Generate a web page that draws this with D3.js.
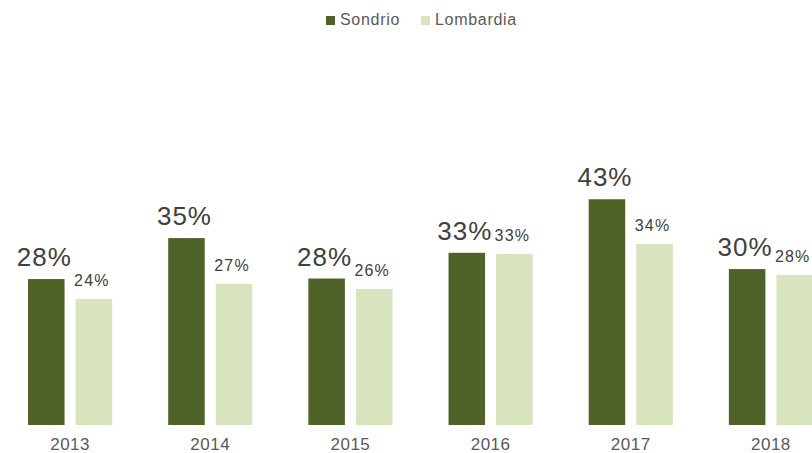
<!DOCTYPE html>
<html lang="it">
<head>
	<meta charset="UTF-8">
	<title>Sondrio vs Lombardia</title>
	<script src="https://cdnjs.cloudflare.com/ajax/libs/d3/7.8.5/d3.min.js"></script>
	<style>
		body { margin: 0; background: #fff; }
		text { font-family: "Liberation Sans", Arial, sans-serif; }
	</style>
</head>
<body>
<script>
	// values (share, 0-1)
	var years = ['2013', '2014', '2015', '2016', '2017', '2018'];
	var seriesNames = ['Sondrio', 'Lombardia'];
	var sondrio = [0.278, 0.356, 0.279, 0.328, 0.430, 0.297];
	var lombardia = [0.240, 0.269, 0.259, 0.326, 0.345, 0.286];
	var labelsSondrio = ['28%', '35%', '28%', '33%', '43%', '30%'];
	var labelsLombardia = ['24%', '27%', '26%', '33%', '34%', '28%'];

	var colors = {Sondrio: '#4f6228', Lombardia: '#d7e4bd'};

	var width = 812, height = 453;
	var baseline = 425;

	var svg = d3.select('body').append('svg')
		.attr('width', width)
		.attr('height', height);

	var rows = years.map(function (y, i) {
		return {
			year: y,
			values: [
				{key: 'Sondrio', value: sondrio[i], label: labelsSondrio[i]},
				{key: 'Lombardia', value: lombardia[i], label: labelsLombardia[i]}
			]
		};
	});

	// plot runs past the right edge, last bar is cut like in the original
	var x0 = d3.scaleBand()
		.domain(years)
		.range([0, 841])
		.paddingInner(0.4)
		.paddingOuter(0.2);

	var x1 = d3.scaleBand()
		.domain(seriesNames)
		.range([0, x0.bandwidth()])
		.paddingInner(0.232);

	var y = d3.scaleLinear()
		.domain([0, 0.5])
		.range([baseline, baseline - 262.5]);

	var groups = svg.selectAll('.group')
		.data(rows)
		.enter().append('g')
		.attr('class', 'group')
		.attr('transform', function (d) { return 'translate(' + x0(d.year) + ',0)'; });

	groups.selectAll('rect')
		.data(function (d) { return d.values; })
		.enter().append('rect')
		.attr('x', function (d) { return x1(d.key); })
		.attr('y', function (d) { return y(d.value); })
		.attr('width', x1.bandwidth())
		.attr('height', function (d) { return baseline - y(d.value); })
		.style('fill', function (d) { return colors[d.key]; });

	groups.selectAll('.lbl')
		.data(function (d) { return d.values; })
		.enter().append('text')
		.attr('class', 'lbl')
		.attr('x', function (d) { return x1(d.key) + x1.bandwidth() / 2 - 2; })
		.attr('y', function (d) { return y(d.value) - 13; })
		.attr('text-anchor', 'middle')
		.style('fill', '#404040')
		.style('font-size', function (d) { return d.key === 'Sondrio' ? '26px' : '16px'; })
		.style('letter-spacing', function (d) { return d.key === 'Sondrio' ? '1px' : '1.2px'; })
		.text(function (d) { return d.label; });

	// category axis, no line or ticks
	var xAxis = svg.append('g')
		.attr('transform', 'translate(0,' + baseline + ')')
		.call(d3.axisBottom(x0).tickSize(0).tickPadding(13));
	xAxis.select('.domain').remove();
	xAxis.selectAll('text')
		.attr('dy', '0.71em')
		.style('font-size', '17px')
		.style('letter-spacing', '0.5px')
		.style('fill', '#595959')
		.style('font-family', '"Liberation Sans", Arial, sans-serif');

	// legend
	var legendX = [326, 421];
	var legend = svg.selectAll('.legend')
		.data(seriesNames)
		.enter().append('g')
		.attr('class', 'legend')
		.attr('transform', function (d, i) { return 'translate(' + legendX[i] + ',16)'; });
	legend.append('rect')
		.attr('width', 9)
		.attr('height', 9)
		.style('fill', function (d) { return colors[d]; });
	legend.append('text')
		.attr('x', 14)
		.attr('y', 9)
		.style('font-size', '16px')
		.style('letter-spacing', '0.7px')
		.style('fill', '#595959')
		.text(function (d) { return d; });
</script>
</body>
</html>
